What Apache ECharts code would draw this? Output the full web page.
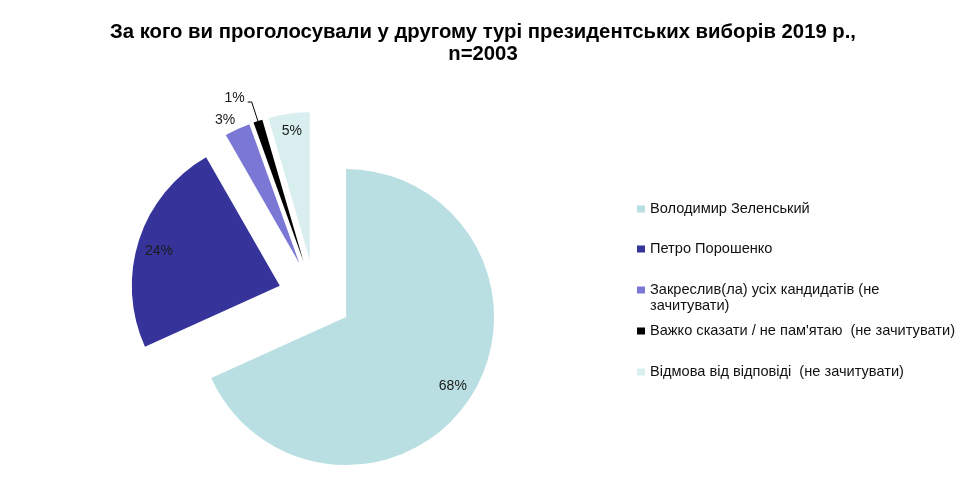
<!DOCTYPE html>
<html>
<head>
<meta charset="utf-8">
<script src="https://cdn.jsdelivr.net/npm/echarts@6/dist/echarts.min.js"></script>
<style>
html,body{margin:0;padding:0;background:#fff;}
#chart{width:980px;height:487px;}
</style>
</head>
<body>
<div id="chart"></div>
<script>
const titleText = 'За кого ви проголосували у другому турі президентських виборів 2019 р.,\nn=2003';
const categories = [
  'Володимир Зеленський',
  'Петро Порошенко',
  'Закреслив(ла) усіх кандидатів (не\nзачитувати)',
  'Важко сказати / не пам\'ятаю  (не зачитувати)',
  'Відмова від відповіді  (не зачитувати)'
];
const values = [68.3, 23.5, 2.8, 1.0, 4.5];
const colors = ['#BADFE2', '#36349A', '#7B78D5', '#000000', '#D9EEEF'];

const FONT = '"Liberation Sans", Arial, sans-serif';

const mainData = categories.map((name, i) => ({
  name: name,
  value: values[i],
  selected: true,
  itemStyle: { color: colors[i] }
}));

// label nudges: blank line before (shift down) or after (shift up)
const labelNudge = ['', 'down', '', 'up', 'up'];
const labelCfg = [
  { position: 'inside' },
  { position: 'inside', lineHeight: 10 },
  { position: 'outside', distanceToLabelLine: -2, lineHeight: 12 },
  { position: 'outside', distanceToLabelLine: 3, lineHeight: 8 },
  { position: 'inside', lineHeight: 6 }
];
const lineCfg = [
  { show: false },
  { show: false },
  { show: false, length: 10, length2: 0 },
  { show: true, length: 20, length2: 4 },
  { show: false }
];

const labelData = categories.map((name, i) => ({
  name: name,
  value: values[i],
  selected: true,
  itemStyle: { color: 'rgba(0,0,0,0)' },
  label: labelCfg[i],
  labelLine: lineCfg[i]
}));

const legendTops = [201, 241, 266, 323, 364];
const legends = categories.map((name, i) => ({
  data: [name],
  left: 637,
  top: legendTops[i],
  orient: 'vertical',
  padding: 0,
  icon: 'rect',
  itemWidth: 8,
  itemHeight: 7,
  selectedMode: false,
  formatter: n => (n.indexOf('\n') >= 0 ? '\n' + n : n),
  textStyle: {
    fontFamily: FONT,
    fontSize: 14.6,
    color: '#111',
    lineHeight: 16
  }
}));

const chart = echarts.init(document.getElementById('chart'), null, { renderer: 'canvas' });
chart.setOption({
  animation: false,
  backgroundColor: '#fff',
  title: {
    text: titleText,
    left: 478,
    textAlign: 'center',
    top: 16,
    textStyle: {
      fontFamily: FONT,
      fontWeight: 'bold',
      fontSize: 20.3,
      lineHeight: 22,
      color: '#000'
    }
  },
  legend: legends,
  series: [
    {
      type: 'pie',
      name: 'main',
      center: [315, 297],
      radius: [0, 148],
      startAngle: 90,
      clockwise: true,
      selectedMode: 'multiple',
      selectedOffset: 37,
      avoidLabelOverlap: false,
      emphasis: { disabled: true },
      label: { show: false },
      labelLine: { show: false },
      data: mainData
    },
    {
      type: 'pie',
      name: 'labels',
      center: [315, 297],
      radius: [100, 148],
      startAngle: 90,
      clockwise: true,
      selectedMode: 'multiple',
      selectedOffset: 37,
      avoidLabelOverlap: false,
      labelLayout: { hideOverlap: false },
      silent: true,
      emphasis: { disabled: true },
      label: {
        show: true,
        fontFamily: FONT,
        fontSize: 14,
        color: '#1a1a1a',
        formatter: p => {
          const t = Math.round(p.value) + '%';
          const n = labelNudge[p.dataIndex];
          return n === 'down' ? '\n' + t : (n === 'up' ? t + '\n' : t);
        }
      },
      labelLine: {
        lineStyle: { color: '#000', width: 1 },
        smooth: false
      },
      data: labelData
    }
  ]
});
</script>
</body>
</html>
